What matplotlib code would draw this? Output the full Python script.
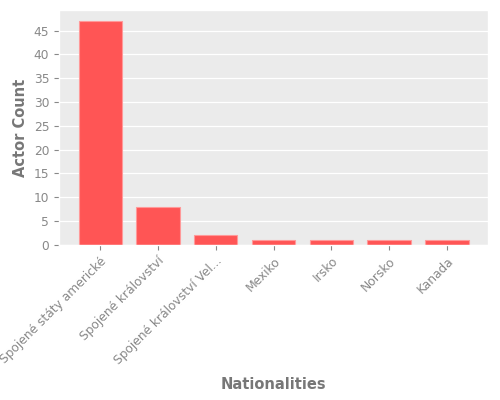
import matplotlib
matplotlib.use("Agg")
from matplotlib import pyplot as plt

nationalities = ["Spojené státy americké", "Spojené království", "Spojené království Vel...",
                 "Mexiko", "Irsko", "Norsko", "Kanada"]
actor_counts = [47, 8, 2, 1, 1, 1, 1]

plt.style.use("ggplot")
fig, ax = plt.subplots(figsize=(5, 4), dpi=100)
ax.set_facecolor("#ebebeb")
ax.bar(nationalities, actor_counts, width=0.75, color="#ff5555", edgecolor="#ff9999", linewidth=0.8)
ax.set_yticks(range(0, 50, 5))
ax.grid(axis="x", visible=False)
ax.grid(axis="y", color="white", linewidth=0.9)
ax.set_xlabel("Nationalities", fontsize=10.5, fontweight="bold", color="#777777", labelpad=7)
ax.set_ylabel("Actor Count", fontsize=10.5, fontweight="bold", color="#777777")
ax.tick_params(axis="both", labelsize=8.8, colors="#888888")
plt.setp(ax.get_xticklabels(), rotation=45, ha="right", rotation_mode="anchor")
plt.subplots_adjust(left=0.118, right=0.976, top=0.975, bottom=0.388)
fig.savefig("out.png")
